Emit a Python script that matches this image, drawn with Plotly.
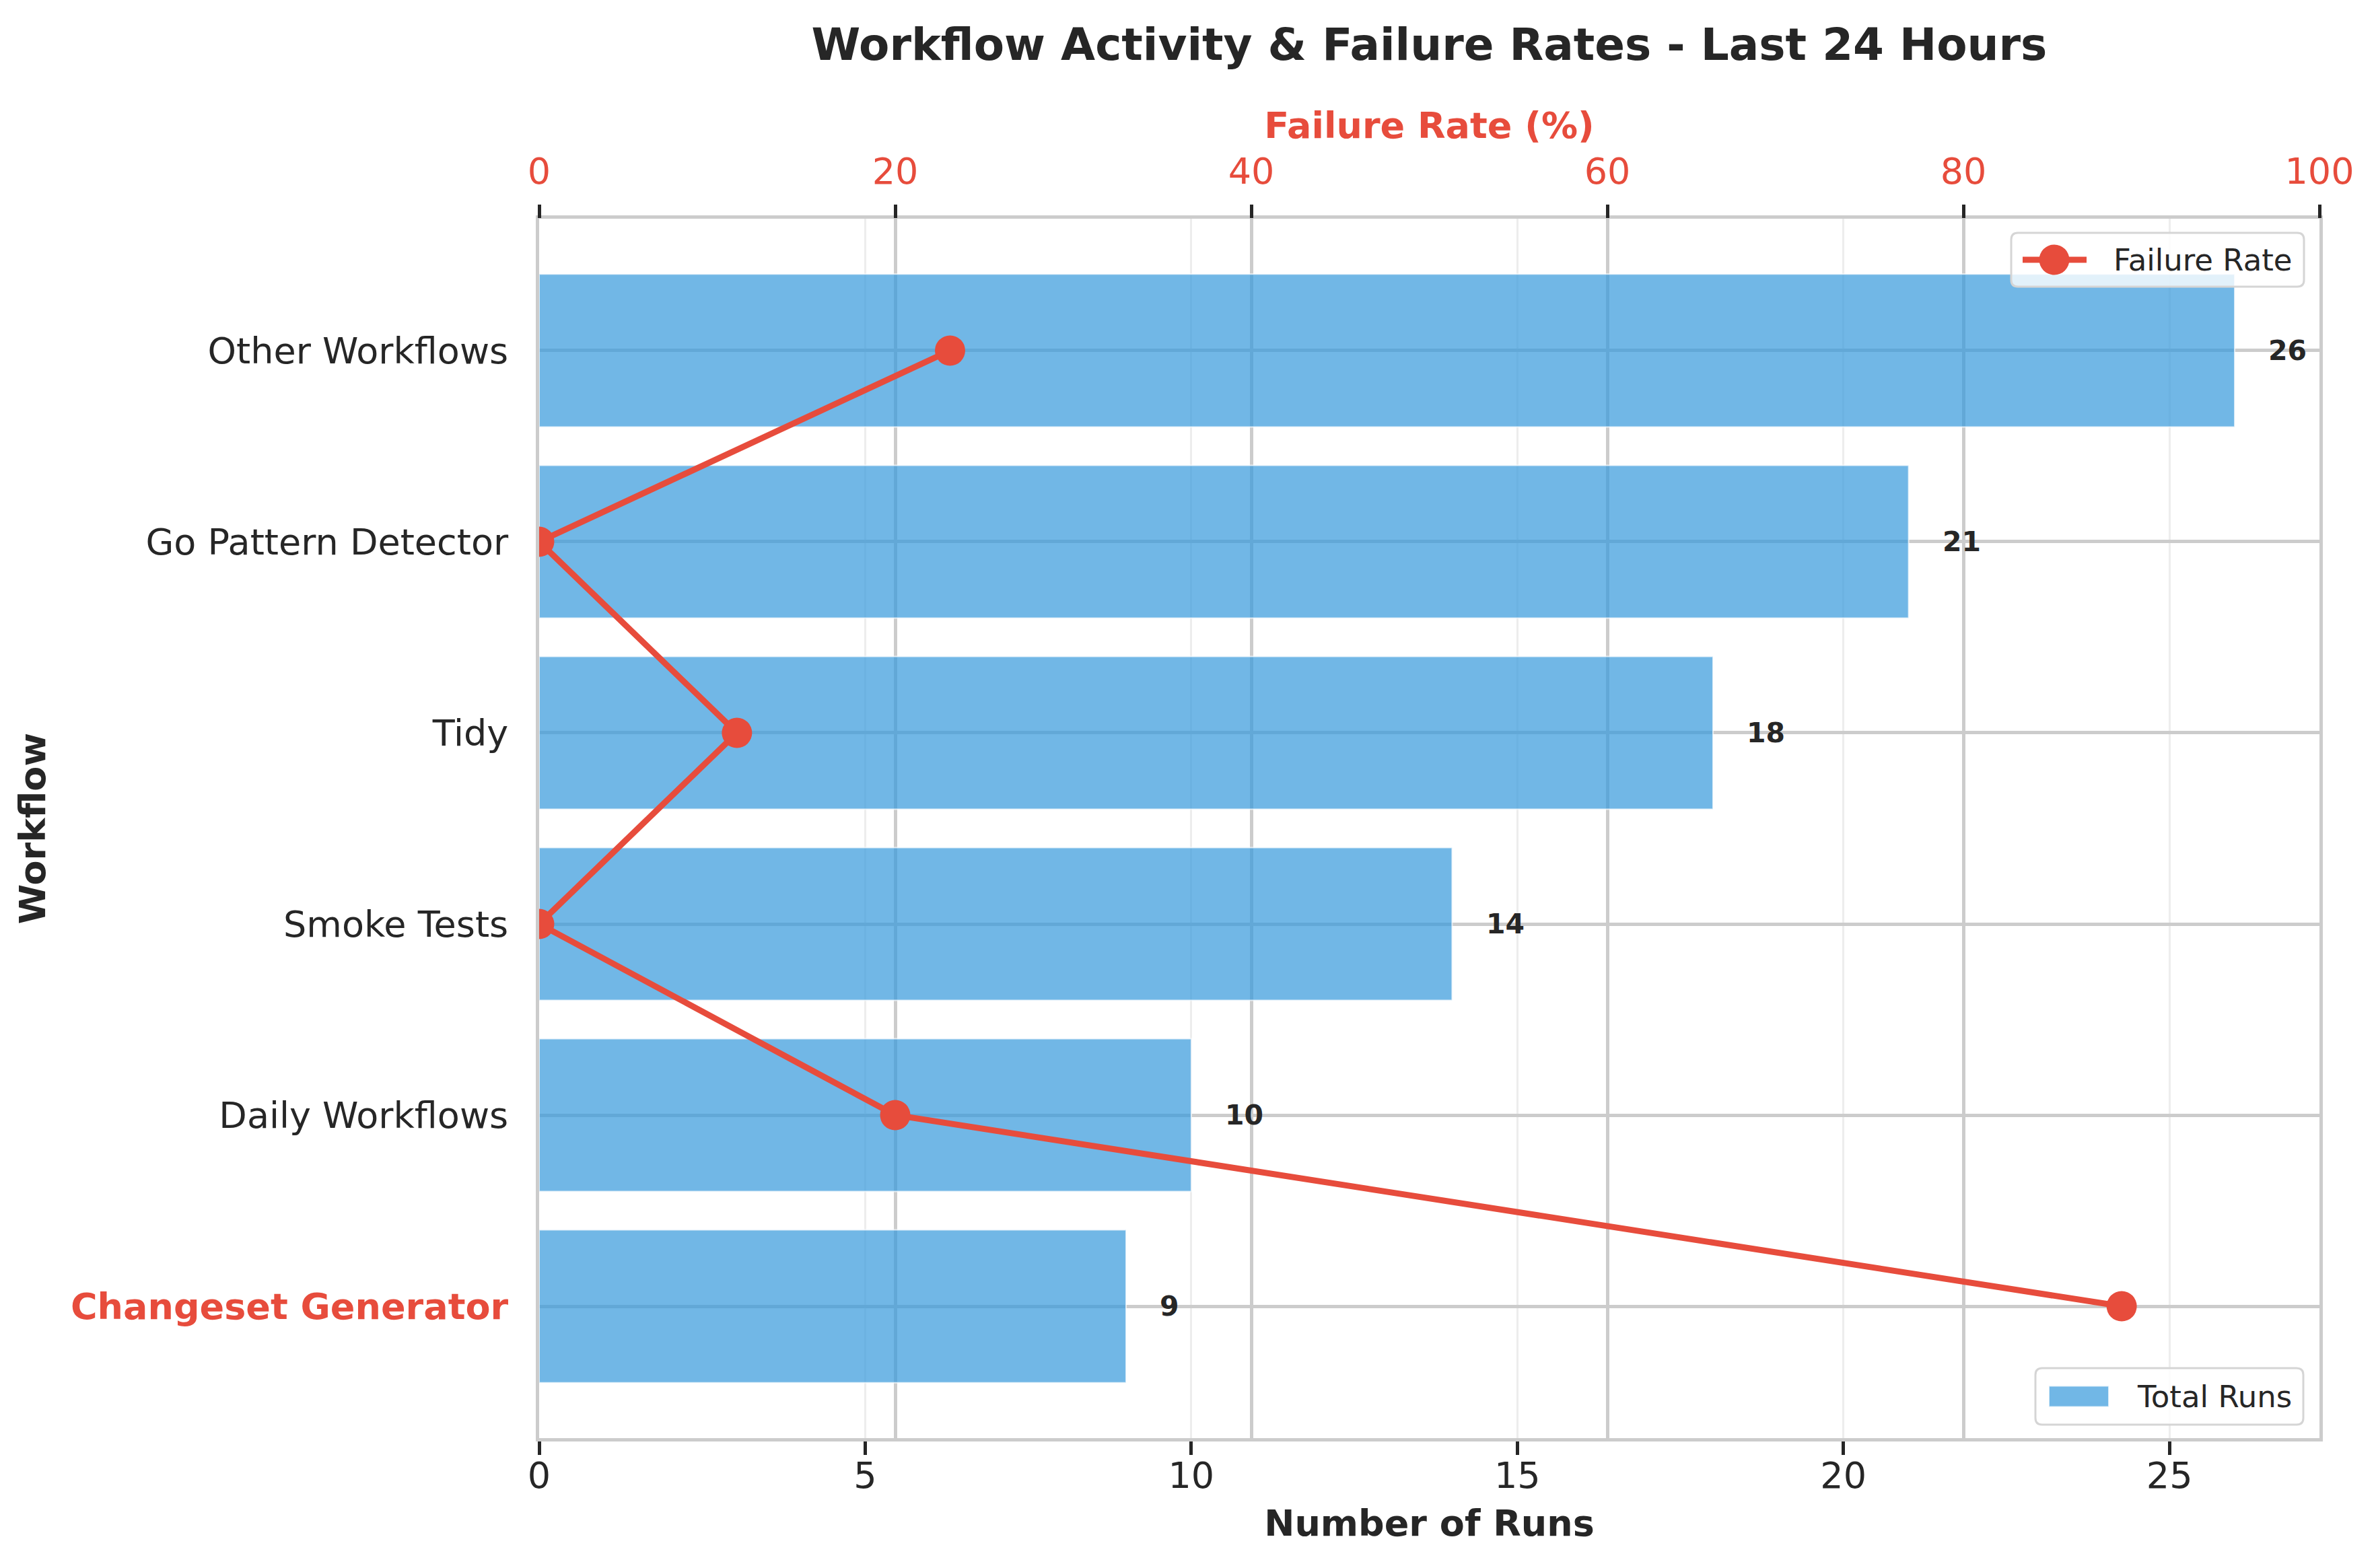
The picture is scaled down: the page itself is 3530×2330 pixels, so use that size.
import plotly.graph_objects as go

# ---- data (top-to-bottom order as shown) ----
workflows = ["Other Workflows", "Go Pattern Detector", "Tidy", "Smoke Tests",
             "Daily Workflows", "Changeset Generator"]
total_runs = [26, 21, 18, 14, 10, 9]
failure_rate = [23.08, 0.0, 11.11, 0.0, 20.0, 88.89]
runs_ticks = [0, 5, 10, 15, 20, 25]
rate_ticks = [0, 20, 40, 60, 80, 100]
legend_labels = ["Failure Rate", "Total Runs"]

BLUE = "rgba(52,152,219,0.7)"
RED = "#e74c3c"
DARK = "#262626"
GRID = "#cccccc"
FONT = "DejaVu Sans"

W, H = 3530, 2330
L, R, T, B = 793, 92, 317, 201
plot_w = W - L - R
plot_h = H - T - B


def px_x(p):
    return (p - L) / plot_w


def px_y(p):
    return 1 - (p - T) / plot_h


worst = workflows[failure_rate.index(max(failure_rate))]
ticktext = [f"<span style='color:{RED}'><b>{w}</b></span>" if w == worst else w
            for w in workflows]

fig = go.Figure()

fig.add_trace(go.Bar(
    x=total_runs, y=workflows, orientation="h", name=legend_labels[1],
    marker=dict(color=BLUE, line=dict(color="rgba(255,255,255,0.7)", width=2)),
    width=0.8, xaxis="x", yaxis="y", showlegend=False,
    hoverinfo="skip",
))

fig.add_trace(go.Scatter(
    x=failure_rate, y=workflows, mode="lines+markers", name=legend_labels[0],
    line=dict(color=RED, width=9), marker=dict(color=RED, size=45),
    xaxis="x2", yaxis="y", showlegend=False,
))

annotations = []
for w, r in zip(workflows, total_runs):
    annotations.append(dict(
        x=r + 0.5, y=w, xref="x", yref="y", text=f"<b>{r}</b>",
        showarrow=False, xanchor="left", yanchor="middle",
        font=dict(family=FONT, size=41, color=DARK),
    ))


# ---- legends (matplotlib-style boxes with wide handles) ----
def rounded_box(x0p, y0p, x1p, y1p, rad=10):
    # pixel coords (top-left origin) -> paper path
    xa, xb = px_x(x0p), px_x(x1p)
    yt, yb = px_y(y0p), px_y(y1p)
    rx, ry = rad / plot_w, rad / plot_h
    return (f"M {xa+rx},{yb} L {xb-rx},{yb} Q {xb},{yb} {xb},{yb+ry} "
            f"L {xb},{yt-ry} Q {xb},{yt} {xb-rx},{yt} L {xa+rx},{yt} "
            f"Q {xa},{yt} {xa},{yt-ry} L {xa},{yb+ry} Q {xa},{yb} {xa+rx},{yb} Z")


shapes = []
FS_LEG = 45
# legend 1 : Failure Rate (top right)
b1 = (2980, 338, 3415, 418)
shapes.append(dict(type="path", path=rounded_box(*b1), xref="paper", yref="paper",
                   fillcolor="rgba(255,255,255,0.8)",
                   line=dict(color="#d5d5d5", width=3), layer="above"))
cy1 = (b1[1] + b1[3]) / 2
shapes.append(dict(type="line", xref="paper", yref="paper",
                   x0=px_x(b1[0] + 17), x1=px_x(b1[0] + 112), y0=px_y(cy1), y1=px_y(cy1),
                   line=dict(color=RED, width=9), layer="above"))
shapes.append(dict(type="circle", xref="paper", yref="paper",
                   x0=px_x(b1[0] + 64 - 22.5), x1=px_x(b1[0] + 64 + 22.5),
                   y0=px_y(cy1 - 22.5), y1=px_y(cy1 + 22.5),
                   fillcolor=RED, line=dict(color=RED, width=0), layer="above"))
annotations.append(dict(x=px_x(b1[0] + 150), y=px_y(cy1), xref="paper", yref="paper",
                        text=legend_labels[0], showarrow=False, xanchor="left",
                        yanchor="middle", font=dict(family=FONT, size=FS_LEG, color=DARK)))
# legend 2 : Total Runs (bottom right)
b2 = (3016, 2025, 3414, 2109)
shapes.append(dict(type="path", path=rounded_box(*b2), xref="paper", yref="paper",
                   fillcolor="rgba(255,255,255,0.8)",
                   line=dict(color="#d5d5d5", width=3), layer="above"))
cy2 = (b2[1] + b2[3]) / 2
shapes.append(dict(type="rect", xref="paper", yref="paper",
                   x0=px_x(b2[0] + 20), x1=px_x(b2[0] + 109),
                   y0=px_y(cy2 - 15.5), y1=px_y(cy2 + 15.5),
                   fillcolor=BLUE, line=dict(color="rgba(255,255,255,0.7)", width=2),
                   layer="above"))
annotations.append(dict(x=px_x(b2[0] + 149), y=px_y(cy2), xref="paper", yref="paper",
                        text=legend_labels[1], showarrow=False, xanchor="left",
                        yanchor="middle", font=dict(family=FONT, size=FS_LEG, color=DARK)))

fig.update_layout(
    width=W, height=H,
    margin=dict(l=L, r=R, t=T, b=B, pad=0),
    paper_bgcolor="white", plot_bgcolor="white",
    font=dict(family=FONT, color=DARK, size=54),
    title=dict(
        text="<b>Workflow Activity & Failure Rates - Last 24 Hours</b>",
        x=(L + plot_w / 2) / W, xanchor="center",
        y=1 - 58 / H, yanchor="middle", yref="container",
        font=dict(family=FONT, size=66, color=DARK),
    ),
    xaxis=dict(
        range=[0, 27.3], tickmode="array", tickvals=runs_ticks,
        ticks="outside", ticklen=20, tickwidth=5, tickcolor=DARK,
        ticklabelstandoff=-16,
        tickfont=dict(size=54, color=DARK),
        showline=True, linecolor=GRID, linewidth=5, mirror=True,
        showgrid=True, gridcolor="rgba(204,204,204,0.35)", gridwidth=3,
        zeroline=False,
        title=dict(text="<b>Number of Runs</b>", font=dict(size=54, color=DARK),
                   standoff=23),
    ),
    xaxis2=dict(
        overlaying="x", side="top", anchor="y",
        range=[0, 100], tickmode="array", tickvals=rate_ticks,
        ticks="outside", ticklen=20, tickwidth=5, tickcolor=DARK,
        ticklabelstandoff=9,
        tickfont=dict(size=54, color=RED),
        showline=False,
        showgrid=True, gridcolor=GRID, gridwidth=4.5,
        zeroline=False,
        title=dict(text="<b>Failure Rate (%)</b>", font=dict(size=54, color=RED),
                   standoff=0),
    ),
    yaxis=dict(
        type="category", categoryorder="array", categoryarray=workflows,
        range=[5.69, -0.69],
        tickmode="array", tickvals=workflows, ticktext=ticktext,
        ticks="", ticklabelstandoff=30,
        tickfont=dict(size=54, color=DARK),
        showline=True, linecolor=GRID, linewidth=5, mirror=True,
        showgrid=True, gridcolor=GRID, gridwidth=4.5,
        zeroline=False,
        title=dict(text="<b>Workflow</b>", font=dict(size=54, color=DARK),
                   standoff=22),
    ),
    annotations=annotations,
    shapes=shapes,
    showlegend=False,
)

fig.write_html("out.html")
